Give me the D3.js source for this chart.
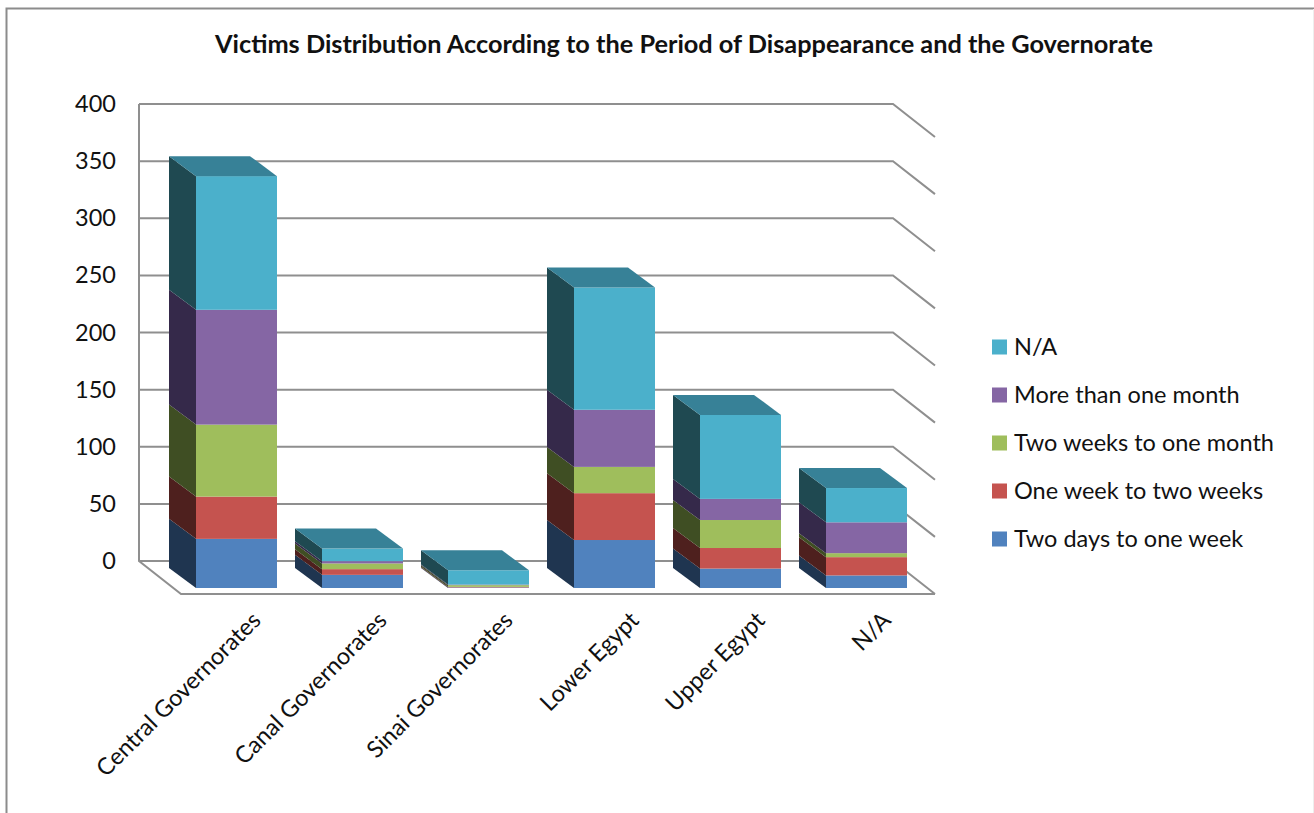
<!DOCTYPE html>
<html>
<head>
<meta charset="utf-8">
<script src="https://cdn.jsdelivr.net/npm/d3@7/dist/d3.min.js"></script>
<style>
  html, body { margin: 0; padding: 0; background: #fff; }
  svg { display: block; }
  text { font-family: Lato, "Open Sans", sans-serif; fill: #111; }
</style>
</head>
<body>
<svg id="chart" width="1314" height="813"></svg>
<script>
const chartTitle = "Victims Distribution According to the Period of Disappearance and the Governorate";
const regions = ["Central Governorates", "Canal Governorates", "Sinai Governorates", "Lower Egypt", "Upper Egypt", "N/A"];
const periods = ["Two days to one week", "One week to two weeks", "Two weeks to one month", "More than one month", "N/A"];

const twoDaysToOneWeek = [43, 11.5, 0.5, 42, 17, 11];
const oneWeekToTwoWeeks = [37, 5, 0.5, 41, 18, 16];
const twoWeeksToOneMonth = [63, 5, 1.5, 23, 24.5, 3.5];
const moreThanOneMonth = [100.5, 2, 0.5, 50, 18.5, 27];
const notAvailable = [117, 11, 12.5, 107, 73.5, 30];
const seriesValues = [twoDaysToOneWeek, oneWeekToTwoWeeks, twoWeeksToOneMonth, moreThanOneMonth, notAvailable];

const yTicks = [0, 50, 100, 150, 200, 250, 300, 350, 400];

const frontColors = ["#5082BE", "#C5534F", "#9FBE5C", "#8566A4", "#4BB0CB"];
const sideColors = ["#1F3550", "#4E201E", "#3F4E23", "#35294A", "#1F4951"];
const topColor = "#378197";

const svg = d3.select("#chart");

// Outer chart frame: only the top and left edges fall inside the page
svg.append("path")
  .attr("d", "M6.5,813V8.5H1314")
  .attr("fill", "none").attr("stroke", "#8c8c8c").attr("stroke-width", 2);
svg.append("line").attr("x1", 1313.5).attr("x2", 1313.5).attr("y1", 9).attr("y2", 813)
  .attr("stroke", "#eeeeee");

svg.append("text")
  .attr("x", 684).attr("y", 53)
  .attr("text-anchor", "middle")
  .attr("font-size", 25.3).attr("font-weight", 700)
  .text(chartTitle);

// Back wall coordinates; the floor projects forward by (floorDx, floorDy)
const wallLeft = 139, wallRight = 893;
const floorDx = 42, floorDy = 33;
const y = d3.scaleLinear().domain([0, 400]).range([561, 104]);

const grid = svg.append("g").attr("fill", "none").attr("stroke", "#8f8f8f").attr("stroke-width", 2);
yTicks.forEach(t => {
  const yy = y(t);
  grid.append("path").attr("d",
    `M${wallLeft},${yy}H${wallRight}L${wallRight + floorDx},${yy + floorDy}`);
});
grid.append("path").attr("d",
  `M${wallLeft},${y(400)}V${y(0)}L${wallLeft + floorDx},${y(0) + floorDy}H${wallRight + floorDx}`);

// Value axis labels
const yAxis = d3.axisLeft(y).tickValues(yTicks).tickSize(0).tickPadding(0);
const yAxisG = svg.append("g").attr("transform", "translate(116,0)").call(yAxis);
yAxisG.select(".domain").remove();
yAxisG.selectAll("text").attr("font-size", 23.5).attr("fill", "#111")
  .style("font-family", "Lato, 'Open Sans', sans-serif");

// Bars: a front face, a darker left side, and a top for the uppermost segment
const barStep = 126;
const barWidth = 81;
const x = d3.scaleBand().domain(regions)
  .range([173.5, 173.5 + barStep * regions.length])
  .paddingInner(1 - barWidth / barStep)
  .paddingOuter((1 - barWidth / barStep) / 2);
const barDx = 27, barDy = 20;
const baseOffset = 27;

const stackedRows = regions.map((r, i) => {
  const row = { region: r };
  periods.forEach((p, k) => { row["s" + k] = seriesValues[k][i]; });
  return row;
});
const stack = d3.stack().keys(periods.map((_, k) => "s" + k));
const layers = stack(stackedRows);

const yFront = v => y(v) + baseOffset;
const bars = svg.append("g");

layers.forEach((layer, k) => {
  layer.forEach((d, i) => {
    const left = x(regions[i]);
    const top = yFront(d[1]), bottom = yFront(d[0]);
    bars.append("path")
      .attr("d", `M${left},${bottom}V${top}L${left - barDx},${top - barDy}V${bottom - barDy}Z`)
      .attr("fill", sideColors[k]);
    bars.append("rect")
      .attr("x", left).attr("y", top)
      .attr("width", x.bandwidth()).attr("height", bottom - top)
      .attr("fill", frontColors[k]);
    if (k === layers.length - 1) {
      bars.append("path")
        .attr("d", `M${left},${top}L${left - barDx},${top - barDy}H${left - barDx + x.bandwidth()}L${left + x.bandwidth()},${top}Z`)
        .attr("fill", topColor);
    }
  });
});

// Category labels rotated along the diagonal
const catAxis = d3.axisBottom(x).tickSize(0).tickPadding(0);
const catG = svg.append("g").attr("transform", "translate(0,616)").call(catAxis);
catG.select(".domain").remove();
catG.selectAll("text")
  .attr("font-size", 23.5).attr("fill", "#111")
  .style("font-family", "Lato, 'Open Sans', sans-serif")
  .attr("text-anchor", "end")
  .attr("dy", "0.35em")
  .attr("transform", "translate(20,0) rotate(-45)");

// Legend, listed from the top segment down
const legendRow = d3.scalePoint().domain(periods.slice().reverse()).range([347, 539]);
const legend = svg.append("g");
periods.forEach((p, k) => {
  const cy = legendRow(p);
  legend.append("rect").attr("x", 992).attr("y", cy - 7.5)
    .attr("width", 15).attr("height", 15).attr("fill", frontColors[k]);
  legend.append("text").attr("x", 1014).attr("y", cy)
    .attr("dy", "0.35em").attr("font-size", 23.5).text(p);
});
</script>
</body>
</html>
